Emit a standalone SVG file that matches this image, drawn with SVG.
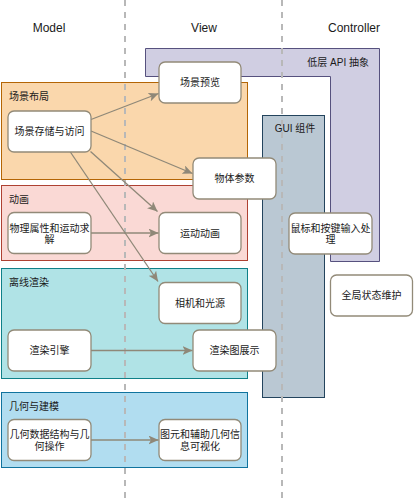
<svg xmlns="http://www.w3.org/2000/svg" width="414" height="500" viewBox="0 0 414 500">
<defs>
<style>
text{font-family:"Liberation Sans","Noto Sans CJK SC",sans-serif;fill:#1a1a1a}
.h{font-size:12px;text-anchor:middle}
.lbl{font-size:10px}
.nt{font-size:10px;text-anchor:middle}
.node{fill:#ffffff;stroke:#928a78;stroke-width:1.3}
.dash{stroke:#b8b8b8;stroke-width:2;stroke-dasharray:6 6;fill:none}
.conn{stroke:#8f8878;stroke-width:1.3;fill:none;marker-end:url(#ah)}
</style>
<marker id="ah" markerUnits="userSpaceOnUse" markerWidth="11" markerHeight="9" refX="10" refY="4.5" orient="auto">
<path d="M0,0 L10,4.5 L0,9 L2.5,4.5 Z" fill="#8f8878"/>
</marker>
</defs>
<rect width="414" height="500" fill="#ffffff"/>

<g id="headers">
<text class="h" x="49" y="32">Model</text>
<text class="h" x="204" y="32">View</text>
<text class="h" x="354" y="32">Controller</text>
</g>

<g id="low-level-api">
<path d="M145.5,48.5 H379.5 V261.5 H330.5 V76.5 H145.5 Z" fill="#d0cee2" stroke="#56517e" stroke-width="1"/>
<text class="lbl" x="369" y="66" text-anchor="end">低层 API 抽象</text>
</g>

<g id="gui">
<rect x="262.5" y="115.5" width="62" height="282" fill="#bac8d3" stroke="#23445d" stroke-width="1"/>
<text class="lbl" x="295" y="132" text-anchor="middle">GUI 组件</text>
</g>

<g id="scene-layout">
<rect x="1.5" y="82.5" width="246" height="97" fill="#fad7ac" stroke="#b46504" stroke-width="1"/>
<text class="lbl" x="9" y="100">场景布局</text>
</g>
<g id="animation">
<rect x="1.5" y="185.5" width="246" height="75" fill="#fad9d5" stroke="#ae4132" stroke-width="1"/>
<text class="lbl" x="9" y="203">动画</text>
</g>
<g id="offline-render">
<rect x="1.5" y="268.5" width="246" height="110" fill="#b0e3e6" stroke="#0e8088" stroke-width="1"/>
<text class="lbl" x="9" y="286">离线渲染</text>
</g>
<g id="geometry">
<rect x="1.5" y="392.5" width="246" height="75" fill="#b1ddf0" stroke="#10739e" stroke-width="1"/>
<text class="lbl" x="9" y="410">几何与建模</text>
</g>

<g id="dividers">
<line class="dash" x1="125" y1="0" x2="125" y2="500"/>
<line class="dash" x1="282" y1="0" x2="282" y2="500"/>
</g>

<g id="connectors">
<line class="conn" x1="91" y1="119.5" x2="158.5" y2="93.5"/>
<line class="conn" x1="91" y1="131" x2="192.5" y2="173.5"/>
<line class="conn" x1="90.5" y1="151.5" x2="157.5" y2="211.5"/>
<line class="conn" x1="70" y1="151.5" x2="158" y2="281.5"/>
<line class="conn" x1="91" y1="233" x2="158.5" y2="233"/>
<line class="conn" x1="91" y1="350.5" x2="192.5" y2="350.5"/>
<line class="conn" x1="91" y1="440" x2="158.5" y2="440"/>
</g>

<g id="n-scene-storage">
<rect class="node" x="8" y="111" width="83" height="41" rx="6"/>
<text class="nt" x="49.5" y="135">场景存储与访问</text>
</g>
<g id="n-scene-preview">
<rect class="node" x="159" y="62" width="82" height="41" rx="6"/>
<text class="nt" x="200" y="86">场景预览</text>
</g>
<g id="n-object-params">
<rect class="node" x="193" y="158" width="83" height="41" rx="6"/>
<text class="nt" x="234.5" y="182">物体参数</text>
</g>
<g id="n-physics">
<rect class="node" x="8" y="212.5" width="83" height="41" rx="6"/>
<text class="nt" x="49.5" y="231.5">物理属性和运动求</text>
<text class="nt" x="49.5" y="242.5">解</text>
</g>
<g id="n-motion-anim">
<rect class="node" x="159" y="212.5" width="82" height="41" rx="6"/>
<text class="nt" x="200" y="236.5">运动动画</text>
</g>
<g id="n-input">
<rect class="node" x="289" y="213" width="83" height="41" rx="6"/>
<text class="nt" x="330.5" y="232">鼠标和按键输入处</text>
<text class="nt" x="330.5" y="243">理</text>
</g>
<g id="n-camera">
<rect class="node" x="159" y="282.5" width="82" height="41" rx="6"/>
<text class="nt" x="200" y="306.5">相机和光源</text>
</g>
<g id="n-global-state">
<rect class="node" x="330.5" y="275" width="82" height="41" rx="6"/>
<text class="nt" x="371.5" y="299">全局状态维护</text>
</g>
<g id="n-render-engine">
<rect class="node" x="8" y="330" width="83" height="41" rx="6"/>
<text class="nt" x="49.5" y="354">渲染引擎</text>
</g>
<g id="n-render-display">
<rect class="node" x="193" y="330" width="83" height="41" rx="6"/>
<text class="nt" x="234.5" y="354">渲染图展示</text>
</g>
<g id="n-geom-data">
<rect class="node" x="8" y="419.5" width="83" height="41" rx="6"/>
<text class="nt" x="49.5" y="438">几何数据结构与几</text>
<text class="nt" x="49.5" y="449.5">何操作</text>
</g>
<g id="n-primitive-vis">
<rect class="node" x="159" y="419.5" width="82" height="41" rx="6"/>
<text class="nt" x="200" y="438">图元和辅助几何信</text>
<text class="nt" x="200" y="449.5">息可视化</text>
</g>
</svg>
